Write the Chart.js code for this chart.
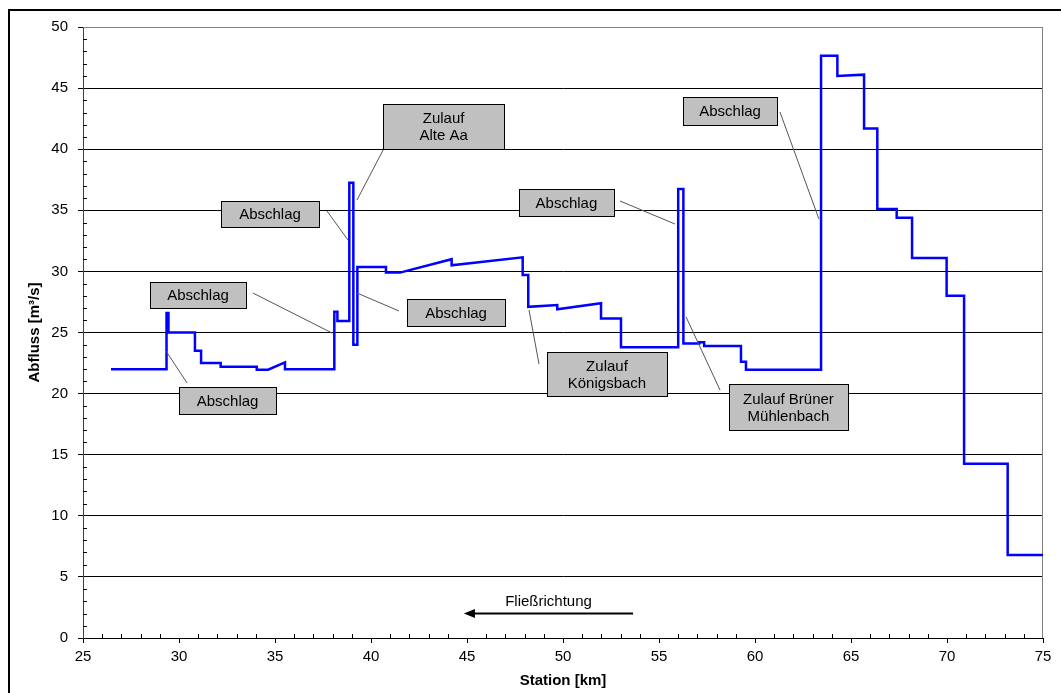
<!DOCTYPE html>
<html>
<head>
<meta charset="utf-8">
<script src="https://cdn.jsdelivr.net/npm/chart.js@4/dist/chart.umd.min.js"></script>
<style>
  body { margin: 0; background: #fff; }
  canvas { display: block; }
</style>
</head>
<body>
<canvas id="abflussChart" width="1061" height="693"></canvas>
<script>
// Abfluss along the river, station in km (steps)
const stations = [26.46, 29.35, 29.35, 29.45, 29.45, 30.83, 30.83, 31.15, 31.15, 32.17, 32.17, 34.05,
  34.05, 34.64, 35.52, 35.52, 38.09, 38.09, 38.25, 38.25, 38.87, 38.87, 39.08, 39.08, 39.29, 39.29,
  40.78, 40.78, 41.51, 44.2, 44.2, 47.9, 47.9, 48.19, 48.19, 49.7, 49.7, 51.98, 51.98, 53.02, 53.02,
  56.0, 56.0, 56.27, 56.27, 57.1, 57.1, 57.35, 57.35, 59.27, 59.27, 59.53, 59.53, 63.44, 63.44,
  64.29, 64.29, 65.68, 65.68, 66.37, 66.37, 67.38, 67.38, 68.18, 68.18, 69.98, 69.98, 70.89, 70.89,
  73.16, 73.16, 75.0]
const discharge = [22, 22, 26.6, 26.6, 25, 25, 23.5, 23.5, 22.5, 22.5, 22.2, 22.2,
  21.95, 21.95, 22.55, 22, 22, 26.7, 26.7, 25.95, 25.95, 37.25, 37.25, 24, 24, 30.35,
  30.35, 29.9, 29.9, 31.0, 30.5, 31.15, 29.7, 29.7, 27.1, 27.25, 26.9, 27.4, 26.15, 26.15, 23.8,
  23.8, 36.75, 36.75, 24.1, 24.1, 24.2, 24.2, 23.9, 23.9, 22.6, 22.6, 21.95, 21.95, 47.65,
  47.65, 46.0, 46.1, 41.7, 41.7, 35.1, 35.1, 34.4, 34.4, 31.1, 31.1, 28.0, 28.0, 14.25,
  14.25, 6.8, 6.8]

const xTicks = [25, 30, 35, 40, 45, 50, 55, 60, 65, 70, 75]
const yTicks = [0, 5, 10, 15, 20, 25, 30, 35, 40, 45, 50]

// callouts: text, box centre [km, m3/s], pointer [from km, from val, to km, to val]
const noteTexts = [['Abschlag'], ['Abschlag'], ['Abschlag'], ['Zulauf', 'Alte Aa'], ['Abschlag'],
  ['Zulauf', 'Königsbach'], ['Abschlag'], ['Zulauf Brüner', 'Mühlenbach'], ['Abschlag']]
const noteCentres = [[30.99, 28.07], [32.53, 19.44], [34.74, 34.70], [43.78, 41.86], [44.43, 26.64],
  [52.29, 21.60], [50.18, 35.64], [61.74, 18.90], [58.70, 43.13]]
const notePointers = [[33.85, 28.23, 37.97, 24.96], [30.42, 20.87, 29.32, 23.49], [37.71, 34.94, 38.80, 32.57],
  [40.63, 39.93, 39.27, 35.84], [41.46, 26.76, 39.27, 28.23], [48.75, 22.42, 48.23, 26.84],
  [52.97, 35.76, 55.83, 33.88], [58.18, 20.29, 56.41, 26.27], [61.30, 43.04, 63.33, 34.29]]

const flowLabel = 'Fließrichtung'
const flowArrow = [53.65, 44.84, 2.0] // from km, to km, at value

const FONT = 'Arial, "Liberation Sans", sans-serif'
// box sizes in px
const boxW = [96, 97, 98, 121, 98, 120, 95, 119, 94]
const boxH = [26, 27, 26, 45, 27, 44, 27, 46, 28]

const decorations = {
  id: 'decorations',
  beforeDraw(chart) {
    const c = chart.ctx
    c.save()
    c.fillStyle = '#fff'
    c.fillRect(0, 0, chart.width, chart.height)
    // outer frame
    c.strokeStyle = '#000'
    c.lineWidth = 2
    c.beginPath()
    c.moveTo(9, chart.height)
    c.lineTo(9, 10)
    c.lineTo(chart.width, 10)
    c.stroke()
    c.restore()
  },
  beforeDatasetsDraw(chart) {
    const c = chart.ctx
    const xs = chart.scales.x, ys = chart.scales.y
    const a = chart.chartArea
    c.save()
    // plot border top / right
    c.strokeStyle = '#808080'
    c.lineWidth = 1
    c.beginPath()
    c.moveTo(a.left, a.top + 0.5)
    c.lineTo(a.right - 0.5, a.top + 0.5)
    c.lineTo(a.right - 0.5, a.bottom)
    c.stroke()
    // minor ticks
    c.strokeStyle = '#000'
    c.beginPath()
    for (let v = 25; v <= 75; v++) {
      if (v % 5 === 0) continue
      const px = Math.round(xs.getPixelForValue(v)) + 0.5
      c.moveTo(px, a.bottom)
      c.lineTo(px, a.bottom - 4)
    }
    for (let v = 0; v <= 50; v++) {
      if (v % 5 === 0) continue
      const py = Math.round(ys.getPixelForValue(v)) + 0.5
      c.moveTo(a.left, py)
      c.lineTo(a.left + 4, py)
    }
    c.stroke()
    c.restore()
  },
  afterDatasetsDraw(chart) {
    const c = chart.ctx
    const xs = chart.scales.x, ys = chart.scales.y
    c.save()
    // pointer lines
    c.strokeStyle = '#555'
    c.lineWidth = 1
    notePointers.forEach(p => {
      c.beginPath()
      c.moveTo(xs.getPixelForValue(p[0]), ys.getPixelForValue(p[1]))
      c.lineTo(xs.getPixelForValue(p[2]), ys.getPixelForValue(p[3]))
      c.stroke()
    })
    // boxes
    c.font = '15px ' + FONT
    c.textAlign = 'center'
    c.textBaseline = 'middle'
    noteTexts.forEach((lines, i) => {
      const cx = xs.getPixelForValue(noteCentres[i][0])
      const cy = ys.getPixelForValue(noteCentres[i][1])
      const x0 = Math.round(cx - boxW[i] / 2) + 0.5
      const y0 = Math.round(cy - boxH[i] / 2) + 0.5
      c.fillStyle = '#c0c0c0'
      c.fillRect(x0, y0, boxW[i], boxH[i])
      c.strokeStyle = '#000'
      c.strokeRect(x0, y0, boxW[i], boxH[i])
      c.fillStyle = '#000'
      const lh = 17
      lines.forEach((t, j) => {
        c.fillText(t, cx, cy + (j - (lines.length - 1) / 2) * lh + 1)
      })
    })
    // flow direction
    const ay = ys.getPixelForValue(flowArrow[2])
    const ax0 = xs.getPixelForValue(flowArrow[0])
    const ax1 = xs.getPixelForValue(flowArrow[1])
    c.strokeStyle = '#000'
    c.lineWidth = 2
    c.beginPath()
    c.moveTo(ax0, ay)
    c.lineTo(ax1 + 8, ay)
    c.stroke()
    c.fillStyle = '#000'
    c.beginPath()
    c.moveTo(ax1, ay)
    c.lineTo(ax1 + 11, ay - 4.5)
    c.lineTo(ax1 + 11, ay + 4.5)
    c.closePath()
    c.fill()
    c.fillText(flowLabel, xs.getPixelForValue((flowArrow[0] + flowArrow[1]) / 2), ys.getPixelForValue(flowArrow[2] + 0.95))
    c.restore()
  }
}

const ctx = document.getElementById('abflussChart')
const chart = new Chart(ctx, {
  type: 'line',
  data: {
    datasets: [{
      data: stations.map((s, i) => ({ x: s, y: discharge[i] })),
      borderColor: '#0000ff',
      borderWidth: 2.5,
      pointRadius: 0,
      tension: 0,
      fill: false
    }]
  },
  options: {
    responsive: false,
    animation: false,
    layout: { padding: { left: 0, top: 27, right: 18, bottom: 0 } },
    plugins: { legend: { display: false }, tooltip: { enabled: false } },
    scales: {
      x: {
        type: 'linear',
        min: 25,
        max: 75,
        afterBuildTicks: s => { s.ticks = xTicks.map(v => ({ value: v })) },
        afterFit: s => { s.height = 55 },
        border: { color: '#000', width: 1 },
        grid: { drawOnChartArea: false, drawTicks: true, tickLength: 5, tickColor: '#000' },
        ticks: { color: '#000', padding: 5, maxRotation: 0, autoSkip: false, font: { family: FONT, size: 15 } },
        title: { display: true, text: 'Station [km]', color: '#000', padding: { top: 0, bottom: 3 },
          font: { family: FONT, size: 15, weight: 'bold' } }
      },
      y: {
        min: 0,
        max: 50,
        afterBuildTicks: s => { s.ticks = yTicks.map(v => ({ value: v })) },
        afterFit: s => { s.width = 83 },
        border: { color: '#404040', width: 1 },
        grid: {
          color: c => c.tick && c.tick.value === 50 ? '#808080' : '#000',
          tickColor: '#000',
          tickLength: 5,
          lineWidth: 1
        },
        ticks: { color: '#000', padding: 10, font: { family: FONT, size: 15 } },
        title: { display: true, text: 'Abfluss [m³/s]', color: '#000', padding: { top: 26, bottom: 0 },
          font: { family: FONT, size: 15, weight: 'bold' } }
      }
    }
  },
  plugins: [decorations]
})
</script>
</body>
</html>
